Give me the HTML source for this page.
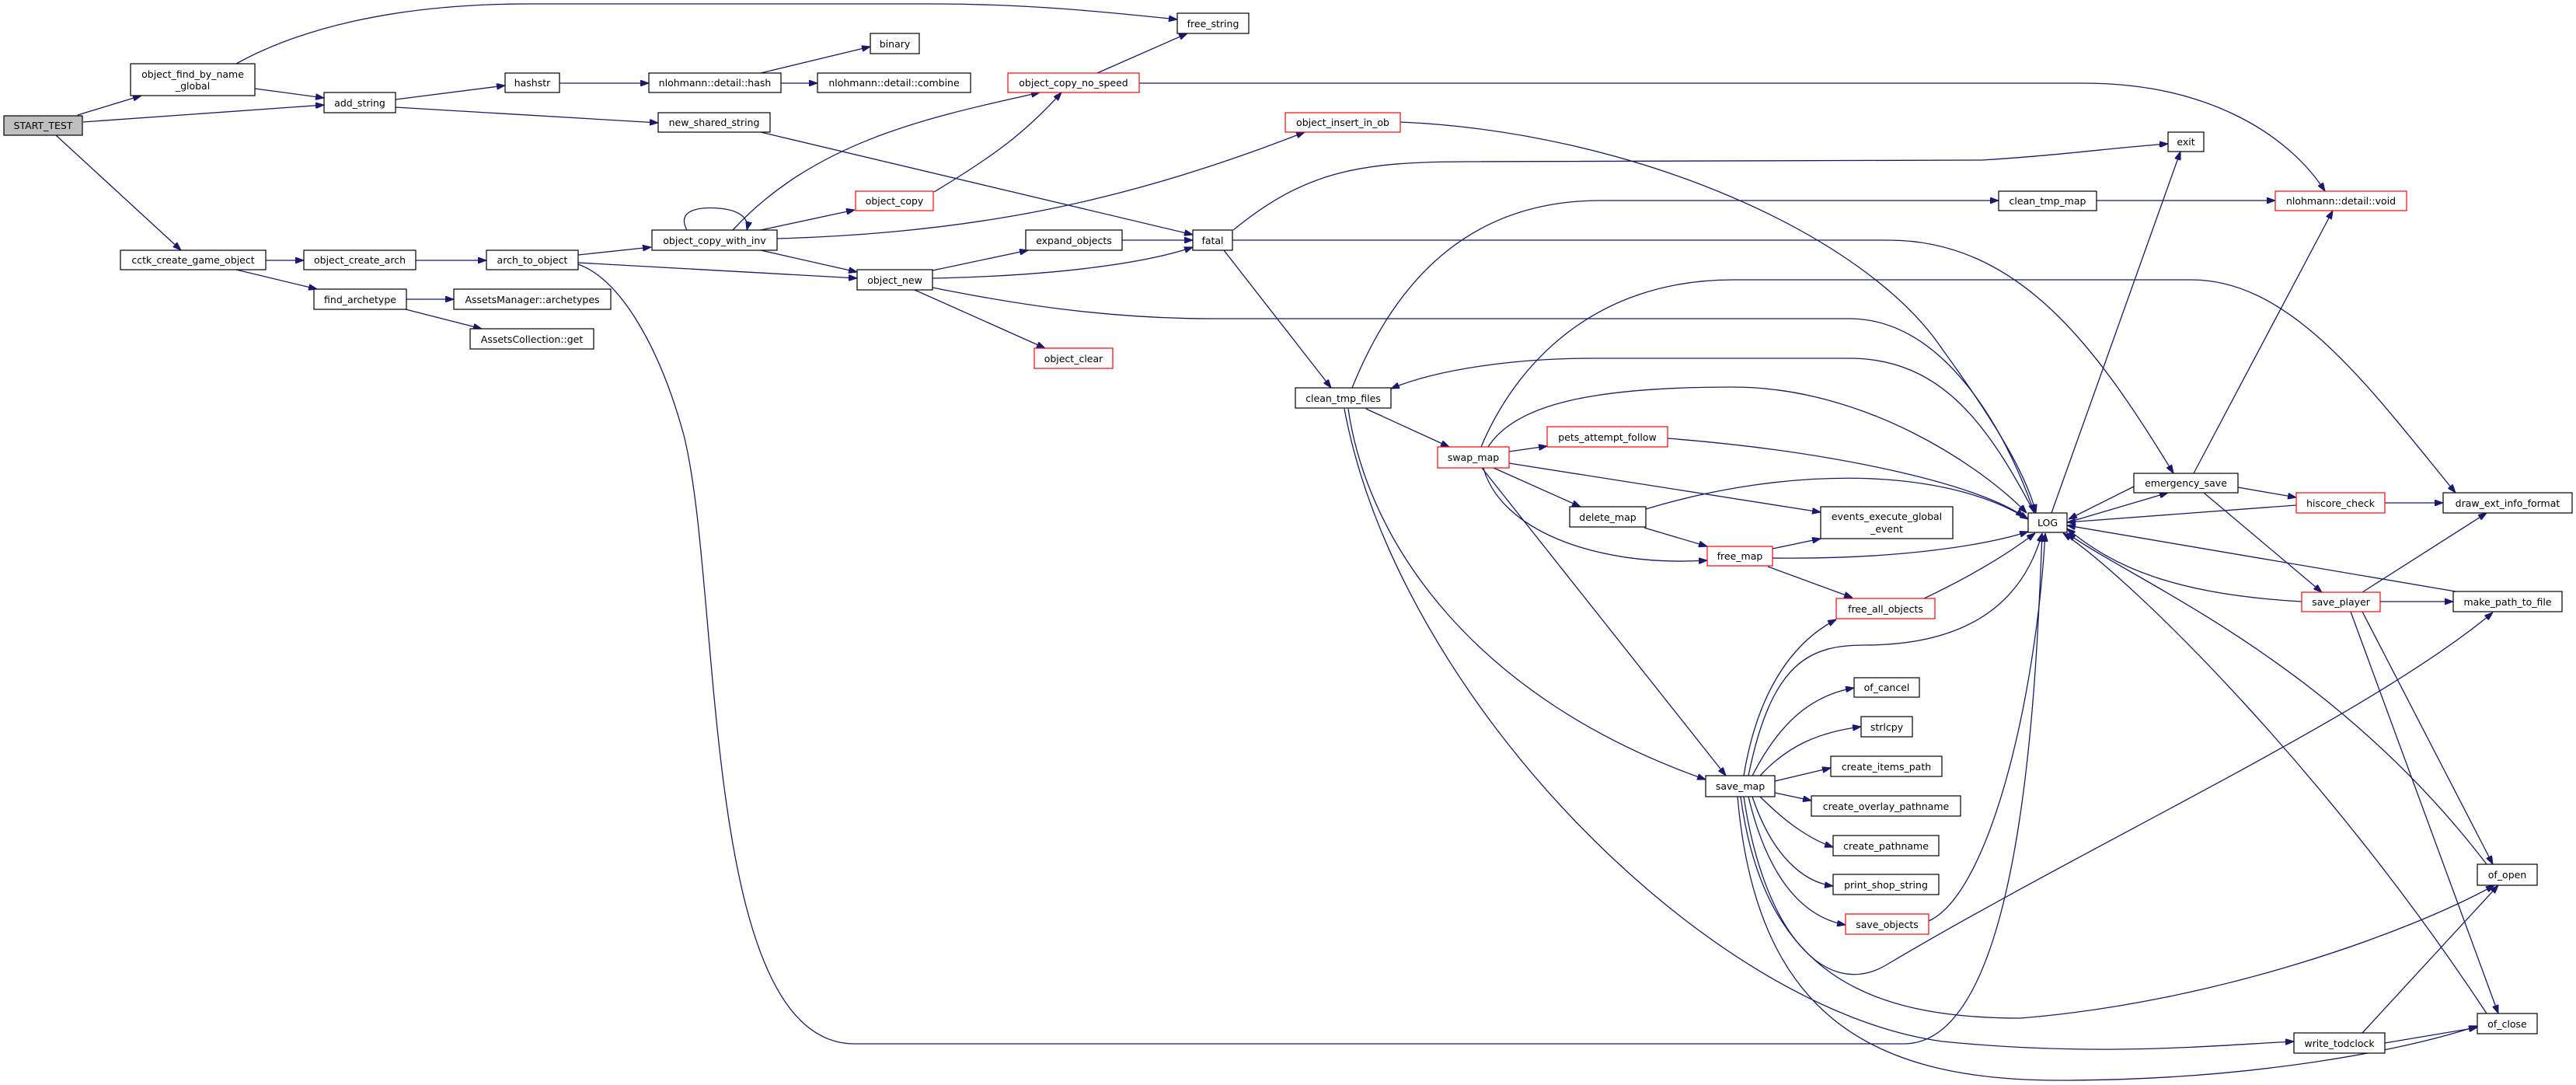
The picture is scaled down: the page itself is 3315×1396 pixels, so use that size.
<!DOCTYPE html>
<html><head><meta charset="utf-8"><style>
html,body{margin:0;padding:0;background:#fff;}
svg{display:block;}
text{font-family:"DejaVu Sans","Liberation Sans",sans-serif;font-size:12.5px;fill:#000;}
.e{fill:none;stroke:#191970;stroke-width:1.3;marker-end:url(#a);}
.n{fill:#fff;stroke:#000;stroke-width:1.2;}
.r{fill:#fff;stroke:#ff0000;stroke-width:1.2;}
</style></head><body>
<svg width="3315" height="1396" viewBox="0 0 3315 1396" xmlns="http://www.w3.org/2000/svg">
<defs><marker id="a" markerUnits="userSpaceOnUse" markerWidth="11" markerHeight="8" refX="11" refY="4" orient="auto"><path d="M0,0 L11,4 L0,8 z" fill="#191970" stroke="#191970"/></marker></defs>
<g>
<path class="e" d="M100,148 L182,123"/>
<path class="e" d="M107,157 L417,135"/>
<path class="e" d="M328,114 L417,126"/>
<path class="e" d="M509,128 L650,110"/>
<path class="e" d="M509,138 L847,158"/>
<path class="e" d="M72,174 L233,322"/>
<path class="e" d="M304,82 C380,40 500,5 680,5 L1200,5 C1320,5 1420,15 1515,25"/>
<path class="e" d="M342,335 L391,335"/>
<path class="e" d="M304,347 L408,372"/>
<path class="e" d="M523,385 L584,385"/>
<path class="e" d="M522,398 L620,423"/>
<path class="e" d="M535,335 L626,335"/>
<path class="e" d="M744,328 L838,318"/>
<path class="e" d="M744,338 L1103,358"/>
<path class="e" d="M744,340 C800,360 850,450 880,560 C930,760 900,1343 1100,1343 L2450,1343 C2600,1343 2620,900 2628,686"/>
<path class="e" d="M884,296 C870,270 900,266 925,268 C950,270 965,280 961,296"/>
<path class="e" d="M943,296 C1050,180 1200,150 1338,119"/>
<path class="e" d="M979,296 L1100,270"/>
<path class="e" d="M1000,307 C1250,300 1450,260 1679,170"/>
<path class="e" d="M979,322 L1103,350"/>
<path class="e" d="M1202,247 C1280,200 1320,170 1366,119"/>
<path class="e" d="M1412,94 L1528,43"/>
<path class="e" d="M1466,107 L2681,107 C2850,107 2950,180 2992,246"/>
<path class="e" d="M979,170 L1535,302"/>
<path class="e" d="M720,107 L835,107"/>
<path class="e" d="M1005,107 L1052,107"/>
<path class="e" d="M979,94 L1120,60"/>
<path class="e" d="M1200,348 L1323,322"/>
<path class="e" d="M1444,309 L1535,309"/>
<path class="e" d="M1200,358 C1350,355 1470,340 1535,318"/>
<path class="e" d="M1200,370 C1300,390 1420,410 1560,410 L2380,410 C2500,410 2580,550 2618,660"/>
<path class="e" d="M1177,373 L1345,448"/>
<path class="e" d="M1587,296 C1680,220 1750,208 1890,208 L2550,206 C2650,200 2720,190 2790,185"/>
<path class="e" d="M1575,322 L1713,499"/>
<path class="e" d="M1586,309 L2430,309 C2600,309 2700,450 2797,609"/>
<path class="e" d="M2618,660 C2560,550 2500,461 2380,461 L2050,461 C1950,461 1850,475 1790,500"/>
<path class="e" d="M1740,499 C1800,350 1900,258 2060,258 L2572,258"/>
<path class="e" d="M2698,258 L2928,258"/>
<path class="e" d="M1906,575 C1950,470 2050,360 2230,360 L2820,360 C2950,360 3050,500 3160,634"/>
<path class="e" d="M1915,575 C1950,520 2050,498 2230,498 C2400,498 2550,600 2608,660"/>
<path class="e" d="M1802,157 C2100,170 2400,300 2500,450 C2580,560 2610,620 2620,660"/>
<path class="e" d="M2640,660 L2806,195"/>
<path class="e" d="M2823,609 L3002,271"/>
<path class="e" d="M1758,526 L1865,575"/>
<path class="e" d="M1942,581 L1991,574"/>
<path class="e" d="M2146,564 C2350,580 2540,620 2605,665"/>
<path class="e" d="M1942,596 L2343,659"/>
<path class="e" d="M1922,602 L2034,652"/>
<path class="e" d="M2118,655 C2300,600 2500,600 2610,668"/>
<path class="e" d="M2116,679 L2197,703"/>
<path class="e" d="M1909,602 C1930,680 2050,730 2197,721"/>
<path class="e" d="M2281,706 L2343,693"/>
<path class="e" d="M2281,718 C2450,720 2560,700 2610,684"/>
<path class="e" d="M2275,729 L2384,769"/>
<path class="e" d="M2476,770 C2560,730 2600,700 2619,686"/>
<path class="e" d="M1907,602 L2221,998"/>
<path class="e" d="M1735,526 C1760,700 1900,900 2195,1003"/>
<path class="e" d="M1730,526 C1800,900 2200,1300 2500,1340 C2700,1360 2850,1345 2952,1340"/>
<path class="e" d="M2244,998 C2260,900 2300,830 2363,797"/>
<path class="e" d="M2250,998 C2280,850 2330,830 2400,830 C2560,830 2610,750 2628,686"/>
<path class="e" d="M2255,998 C2290,930 2330,895 2386,885"/>
<path class="e" d="M2265,998 C2300,960 2340,942 2395,935"/>
<path class="e" d="M2284,1005 L2356,988"/>
<path class="e" d="M2284,1020 L2331,1030"/>
<path class="e" d="M2265,1025 C2300,1060 2330,1080 2359,1090"/>
<path class="e" d="M2255,1025 C2280,1100 2320,1135 2359,1140"/>
<path class="e" d="M2250,1025 C2275,1130 2320,1180 2375,1190"/>
<path class="e" d="M2482,1185 C2560,1150 2620,900 2632,686"/>
<path class="e" d="M2244,1025 C2270,1200 2350,1290 2430,1240 C2700,1080 3050,920 3208,788"/>
<path class="e" d="M2240,1025 C2270,1250 2400,1310 2600,1310 C2850,1290 3100,1200 3210,1139"/>
<path class="e" d="M2236,1025 C2260,1300 2400,1390 2650,1390 C2900,1390 3100,1350 3188,1320"/>
<path class="e" d="M3200,1112 C3000,850 2750,750 2660,686"/>
<path class="e" d="M3200,1304 C3000,1000 2750,750 2655,686"/>
<path class="e" d="M3040,787 L3208,1112"/>
<path class="e" d="M3025,787 L3215,1304"/>
<path class="e" d="M3040,1329 L3215,1139"/>
<path class="e" d="M3069,1342 L3188,1322"/>
<path class="e" d="M2962,774 C2800,765 2720,730 2660,680"/>
<path class="e" d="M3160,761 L2660,676"/>
<path class="e" d="M3063,774 L3157,774"/>
<path class="e" d="M3040,762 L3200,660"/>
<path class="e" d="M3069,647 L3144,647"/>
<path class="e" d="M2955,650 L2660,672"/>
<path class="e" d="M2880,627 L2955,640"/>
<path class="e" d="M2746,626 L2662,668"/>
<path class="e" d="M2668,670 L2790,634"/>
<path class="e" d="M2836,634 L2988,762"/>
</g>
<g text-anchor="middle">
<rect x="5" y="149" width="101" height="25" fill="#bfbfbf" stroke="#000" stroke-width="1.2"/><text x="55.5" y="166">START_TEST</text>
<rect class="n" x="168" y="82" width="160" height="41"/><text x="248" y="100">object_find_by_name</text><text x="248" y="115">_global</text>
<rect class="n" x="417" y="119" width="92" height="26"/><text x="463" y="137">add_string</text>
<rect class="n" x="650" y="94" width="70" height="25"/><text x="685" y="111">hashstr</text>
<rect class="n" x="835" y="94" width="170" height="25"/><text x="920" y="111">nlohmann::detail::hash</text>
<rect class="n" x="847" y="145" width="144" height="25"/><text x="919" y="162">new_shared_string</text>
<rect class="n" x="1120" y="43" width="63" height="26"/><text x="1151.5" y="61">binary</text>
<rect class="n" x="1052" y="94" width="197" height="25"/><text x="1150.5" y="111">nlohmann::detail::combine</text>
<rect class="n" x="1515" y="17" width="92" height="26"/><text x="1561" y="35">free_string</text>
<rect class="r" x="1297" y="94" width="169" height="25"/><text x="1381.5" y="111">object_copy_no_speed</text>
<rect class="r" x="1654" y="145" width="148" height="25"/><text x="1728" y="162">object_insert_in_ob</text>
<rect class="r" x="1101" y="246" width="100" height="25"/><text x="1151" y="263">object_copy</text>
<rect class="n" x="839" y="296" width="161" height="26"/><text x="919.5" y="314">object_copy_with_inv</text>
<rect class="n" x="155" y="322" width="187" height="25"/><text x="248.5" y="339">cctk_create_game_object</text>
<rect class="n" x="391" y="322" width="144" height="25"/><text x="463" y="339">object_create_arch</text>
<rect class="n" x="626" y="322" width="118" height="25"/><text x="685" y="339">arch_to_object</text>
<rect class="n" x="404" y="372" width="119" height="26"/><text x="463.5" y="390">find_archetype</text>
<rect class="n" x="584" y="372" width="202" height="26"/><text x="685" y="390">AssetsManager::archetypes</text>
<rect class="n" x="605" y="423" width="159" height="26"/><text x="684.5" y="441">AssetsCollection::get</text>
<rect class="n" x="1320" y="296" width="124" height="26"/><text x="1382" y="314">expand_objects</text>
<rect class="n" x="1535" y="296" width="51" height="26"/><text x="1560.5" y="314">fatal</text>
<rect class="n" x="1103" y="347" width="97" height="26"/><text x="1151.5" y="365">object_new</text>
<rect class="r" x="1331" y="448" width="101" height="26"/><text x="1381.5" y="466">object_clear</text>
<rect class="n" x="2790" y="170" width="46" height="25"/><text x="2813" y="187">exit</text>
<rect class="n" x="2572" y="246" width="126" height="25"/><text x="2635" y="263">clean_tmp_map</text>
<rect class="r" x="2928" y="246" width="169" height="25"/><text x="3012.5" y="263">nlohmann::detail::void</text>
<rect class="n" x="1667" y="499" width="123" height="26"/><text x="1728.5" y="517">clean_tmp_files</text>
<rect class="r" x="1850" y="575" width="92" height="27"/><text x="1896" y="593">swap_map</text>
<rect class="r" x="1991" y="549" width="155" height="26"/><text x="2068.5" y="567">pets_attempt_follow</text>
<rect class="n" x="2020" y="652" width="98" height="26"/><text x="2069" y="670">delete_map</text>
<rect class="n" x="2343" y="652" width="170" height="41"/><text x="2428" y="669">events_execute_global</text><text x="2428" y="685">_event</text>
<rect class="r" x="2197" y="703" width="84" height="25"/><text x="2239" y="720">free_map</text>
<rect class="r" x="2363" y="770" width="127" height="26"/><text x="2426.5" y="788">free_all_objects</text>
<rect class="n" x="2610" y="660" width="50" height="25"/><text x="2635" y="677">LOG</text>
<rect class="n" x="2746" y="609" width="134" height="25"/><text x="2813" y="626">emergency_save</text>
<rect class="r" x="2955" y="634" width="114" height="26"/><text x="3012" y="652">hiscore_check</text>
<rect class="n" x="3144" y="634" width="166" height="26"/><text x="3227" y="652">draw_ext_info_format</text>
<rect class="r" x="2962" y="762" width="101" height="25"/><text x="3012.5" y="779">save_player</text>
<rect class="n" x="3157" y="761" width="140" height="26"/><text x="3227" y="779">make_path_to_file</text>
<rect class="n" x="2386" y="872" width="84" height="25"/><text x="2428" y="889">of_cancel</text>
<rect class="n" x="2395" y="922" width="66" height="26"/><text x="2428" y="940">strlcpy</text>
<rect class="n" x="2356" y="973" width="143" height="26"/><text x="2427.5" y="991">create_items_path</text>
<rect class="n" x="2331" y="1024" width="192" height="26"/><text x="2427" y="1042">create_overlay_pathname</text>
<rect class="n" x="2359" y="1075" width="136" height="26"/><text x="2427" y="1093">create_pathname</text>
<rect class="n" x="2359" y="1125" width="136" height="26"/><text x="2427" y="1143">print_shop_string</text>
<rect class="r" x="2375" y="1176" width="107" height="26"/><text x="2428.5" y="1194">save_objects</text>
<rect class="n" x="2195" y="998" width="89" height="27"/><text x="2239.5" y="1016">save_map</text>
<rect class="n" x="3188" y="1112" width="77" height="27"/><text x="3226.5" y="1130">of_open</text>
<rect class="n" x="3188" y="1304" width="77" height="26"/><text x="3226.5" y="1322">of_close</text>
<rect class="n" x="2952" y="1329" width="117" height="26"/><text x="3010.5" y="1347">write_todclock</text>
</g>
</svg>
</body></html>
